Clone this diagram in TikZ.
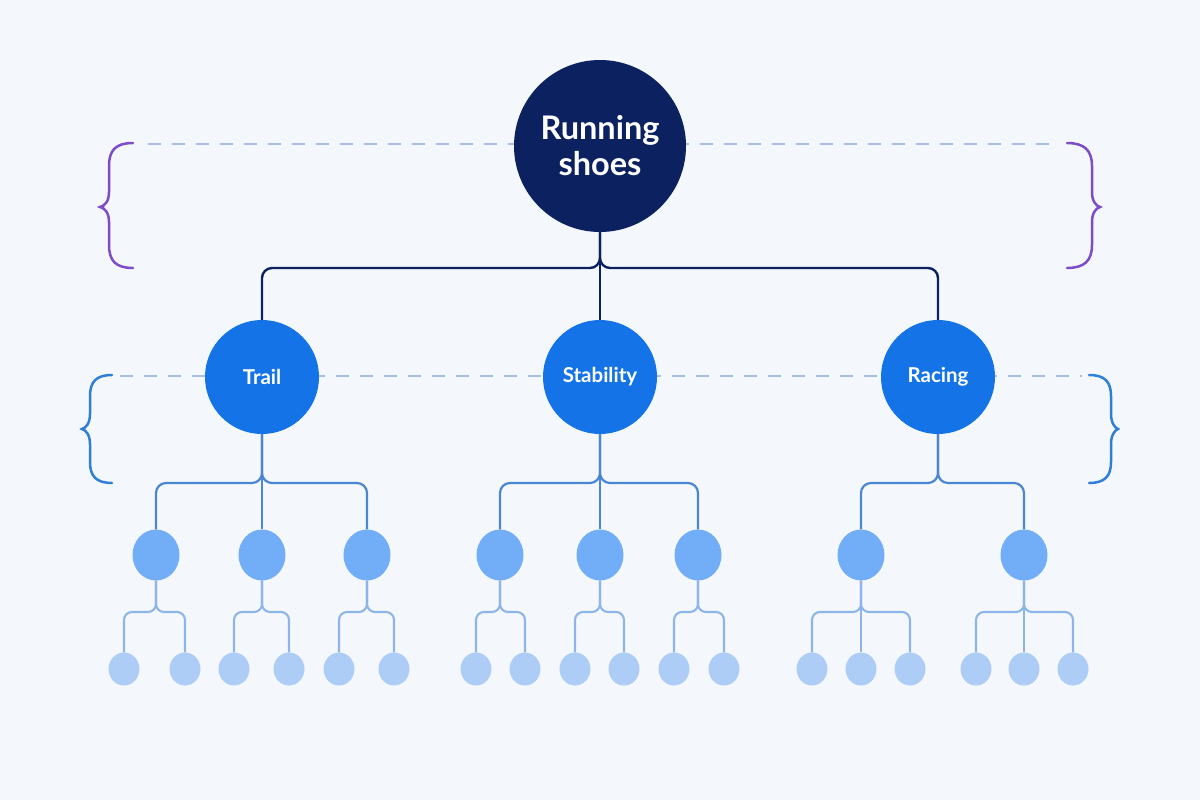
\documentclass[tikz,border=0pt]{standalone}
\usepackage{fontspec}
\setmainfont{Lato}
\usetikzlibrary{shapes.geometric}
\definecolor{bg}{HTML}{F4F8FC}
\definecolor{rootc}{HTML}{0B2160}
\definecolor{lonec}{HTML}{1473E6}
\definecolor{ltwoc}{HTML}{72AEF7}
\definecolor{leafc}{HTML}{ADCDF6}
\definecolor{lineone}{HTML}{4A86D2}
\definecolor{linetwo}{HTML}{8DB5EA}
\definecolor{purp}{HTML}{7E4CC9}
\definecolor{bluebr}{HTML}{2F7FD6}
\definecolor{dashc}{HTML}{A8BEE2}
\tikzset{
  rootnode/.style={circle,fill=rootc,minimum size=172pt,inner sep=0pt,text=white,font=\fontsize{32.5}{36}\selectfont\bfseries,align=center},
  onenode/.style={circle,fill=lonec,minimum size=114pt,inner sep=0pt,text=white,font=\fontsize{20.5}{24}\selectfont\bfseries},
  twonode/.style={ellipse,fill=ltwoc,minimum width=47pt,minimum height=51pt,inner sep=0pt},
  leafnode/.style={ellipse,fill=leafc,minimum width=31pt,minimum height=33pt,inner sep=0pt},
  rootline/.style={draw=rootc,line width=2.4pt,rounded corners=10pt},
  oneline/.style={draw=lineone,line width=2.2pt,rounded corners=10pt},
  twoline/.style={draw=linetwo,line width=2.1pt,rounded corners=8pt},
  guide/.style={draw=dashc,line width=2.2pt,dash pattern=on 13pt off 11pt},
  purpbrace/.style={draw=purp,line width=2.5pt,line cap=round},
  bluebrace/.style={draw=bluebr,line width=2.5pt,line cap=round},
}
\begin{document}
\begin{tikzpicture}[x=1pt,y=-1pt]
\fill[bg] (0,0) rectangle (1200,800);
\useasboundingbox (0,0) rectangle (1200,800);
% guide dashed lines
\coordinate (ga) at (148,144);
\coordinate (gb) at (1058,144);
\coordinate (gc) at (120,376);
\coordinate (gd) at (1082,376);
\draw[guide] (ga) -- (gb);
\draw[guide] (gc) -- (gd);
% braces
\draw[purpbrace] (133,143) .. controls (116,143) and (109,150) .. (109,166) -- (109,192)
  .. controls (109,201) and (105,206) .. (100,207)
  .. controls (105,208) and (109,213) .. (109,222) -- (109,245)
  .. controls (109,261) and (116,268) .. (133,268);
\draw[purpbrace] (1067,143) .. controls (1084,143) and (1092,150) .. (1092,166) -- (1092,192)
  .. controls (1092,201) and (1096,206) .. (1100,207)
  .. controls (1096,208) and (1092,213) .. (1092,222) -- (1092,245)
  .. controls (1092,261) and (1084,268) .. (1067,268);
\draw[bluebrace] (112,375) .. controls (96,375) and (90,382) .. (90,396) -- (90,414)
  .. controls (90,423) and (86,428) .. (82,429)
  .. controls (86,430) and (90,435) .. (90,444) -- (90,462)
  .. controls (90,476) and (96,483) .. (112,483);
\draw[bluebrace] (1089,375) .. controls (1105,375) and (1111,382) .. (1111,396) -- (1111,414)
  .. controls (1111,423) and (1115,428) .. (1118,429)
  .. controls (1115,430) and (1111,435) .. (1111,444) -- (1111,462)
  .. controls (1111,476) and (1105,483) .. (1089,483);
% nodes
\node[rootnode] (root) at (600,146) {Running\\[0pt]shoes};
\node[onenode] (trail) at (262,377) {Trail};
\node[onenode] (stab) at (600,377) {Stability};
\node[onenode] (racing) at (938,377) {Racing};
\foreach \n/\x in {t1/156,t2/262,t3/367,s1/500,s2/600,s3/698,r1/861,r2/1024}
  \node[twonode] (\n) at (\x,555) {};
\foreach \n/\x in {t1a/124,t1b/185,t2a/234,t2b/289,t3a/339,t3b/394,
                   s1a/476,s1b/525,s2a/575,s2b/624,s3a/674,s3b/724,
                   r1a/812,r1b/861,r1c/910,r2a/976,r2b/1024,r2c/1073}
  \node[leafnode] (\n) at (\x,669) {};
% root connectors
\coordinate (f0) at (600,268);
\draw[rootline] (root.south) -- (f0) -| (trail.north);
\draw[rootline] (root.south) -- (f0) -| (racing.north);
\draw[rootline] (root.south) -- (stab.north);
% level one connectors
\coordinate (ft) at (262,483);
\coordinate (fs) at (600,483);
\coordinate (fr) at (938,483);
\draw[oneline] (trail.south) -- (ft) -| (t1.north);
\draw[oneline] (trail.south) -- (ft) -| (t3.north);
\draw[oneline] (trail.south) -- (t2.north);
\draw[oneline] (stab.south) -- (fs) -| (s1.north);
\draw[oneline] (stab.south) -- (fs) -| (s3.north);
\draw[oneline] (stab.south) -- (s2.north);
\draw[oneline] (racing.south) -- (fr) -| (r1.north);
\draw[oneline] (racing.south) -- (fr) -| (r2.north);
% level two connectors
\foreach \p/\px/\a/\b in {t1/156/t1a/t1b,t2/262/t2a/t2b,t3/367/t3a/t3b,s1/500/s1a/s1b,s2/600/s2a/s2b,s3/698/s3a/s3b,r1/861/r1a/r1c,r2/1024/r2a/r2c}{
  \coordinate (k\p) at (\px,612);
  \draw[twoline] (\p.south) -- (k\p) -| (\a.north);
  \draw[twoline] (\p.south) -- (k\p) -| (\b.north);
}
\draw[twoline] (r1.south) -- (r1b.north);
\draw[twoline] (r2.south) -- (r2b.north);
\end{tikzpicture}
\end{document}
